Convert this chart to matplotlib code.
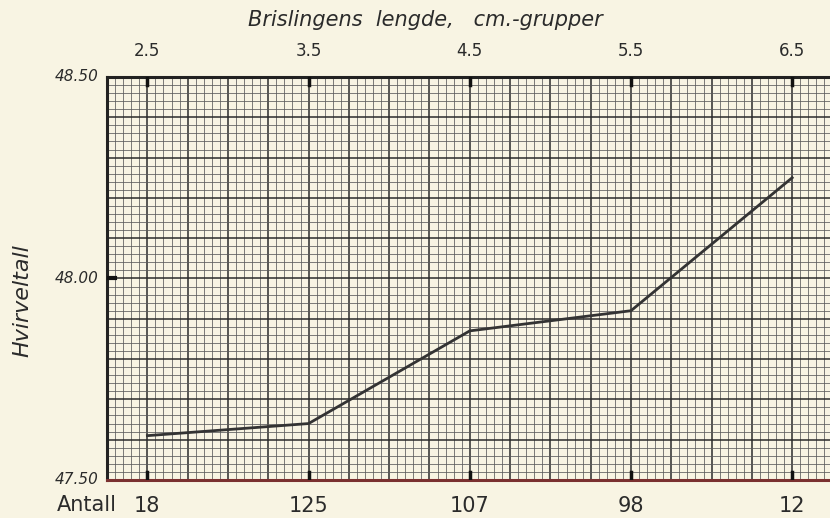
import numpy as np
import matplotlib
matplotlib.use('Agg')
import matplotlib.pyplot as plt
from matplotlib.ticker import MultipleLocator

# length groups (cm), number of fish and mean vertebral count
lengths = [2.5, 3.5, 4.5, 5.5, 6.5]
antall = ['18', '125', '107', '98', '12']
hvirvel = [47.61, 47.64, 47.87, 47.92, 48.25]

paper = '#f8f4e3'
ink = '#2b2b2b'

fig = plt.figure(figsize=(8.3, 5.18), dpi=100, facecolor=paper)
ax = fig.add_axes([0.129, 0.0734, 0.874, 0.778])
ax.set_facecolor(paper)

ax.set_xlim(2.25, 6.75)
ax.set_ylim(47.5, 48.5)

# graph paper grid
ax.xaxis.set_major_locator(MultipleLocator(0.25))
ax.xaxis.set_minor_locator(MultipleLocator(0.05))
ax.yaxis.set_major_locator(MultipleLocator(0.1))
ax.yaxis.set_minor_locator(MultipleLocator(0.02))
ax.grid(which='major', color='#2a2a2a', linewidth=1.1)
ax.grid(which='minor', color='#5a5a5a', linewidth=0.55)
ax.set_axisbelow(True)
ax.tick_params(which='both', length=0, labelbottom=False, labelleft=False)

for side in ['left', 'top', 'right']:
    ax.spines[side].set_color('#222222')
    ax.spines[side].set_linewidth(2.2)
ax.spines['bottom'].set_color('#7a3030')
ax.spines['bottom'].set_linewidth(2.2)

# the curve
ax.plot(lengths, hvirvel, color='#333333', linewidth=2.0, zorder=5)

# thick marks at the length groups, top and bottom
for x in lengths:
    ax.plot([x, x], [48.5, 48.48], color='#111111', linewidth=2.5, zorder=6)
    ax.plot([x, x], [47.5, 47.52], color='#111111', linewidth=2.5, zorder=6)
ax.plot([2.25, 2.30], [48.0, 48.0], color='#111111', linewidth=3, zorder=6)

# labels
trans = ax.get_xaxis_transform()
for x, n in zip(lengths, antall):
    ax.text(x, 1.065, str(x), transform=trans, ha='center', va='center',
            fontsize=12, color=ink)
    ax.text(x, -0.065, n, transform=trans, ha='center', va='center',
            fontsize=15, color=ink)
fig.text(0.069, 0.025, 'Antall', ha='left', va='center', fontsize=15,
         color=ink)

for y in [48.5, 48.0, 47.5]:
    ax.text(-0.012, (y - 47.5), '%.2f' % y, transform=ax.transAxes,
            ha='right', va='center', fontsize=11, style='italic', color=ink)

fig.text(0.512, 0.962, 'Brislingens  lengde,   cm.-grupper', ha='center',
         va='center', fontsize=15, style='italic', color=ink)
fig.text(0.027, 0.42, 'Hvirveltall', rotation=90, ha='center', va='center',
         fontsize=16, style='italic', color=ink)

fig.savefig('out.png', dpi=100, facecolor=paper)
